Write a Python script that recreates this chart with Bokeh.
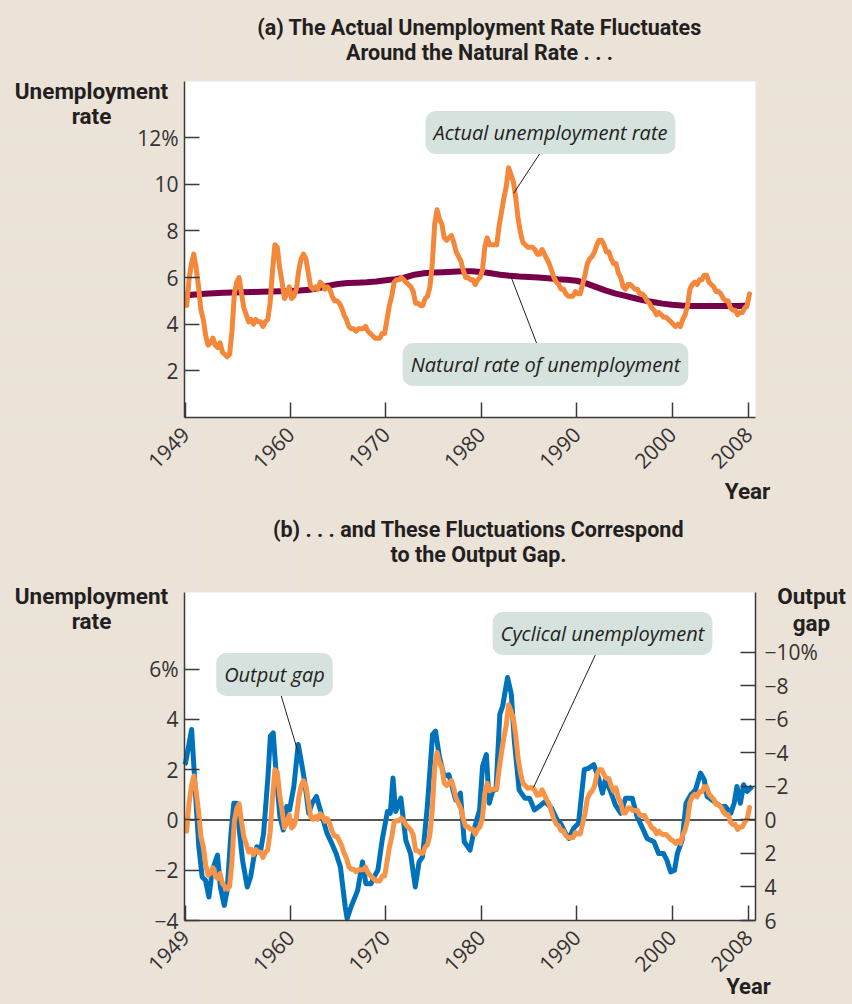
import math
from bokeh.plotting import figure
from bokeh.models import Range1d, LinearAxis, FixedTicker, Label, BoxAnnotation
from bokeh.layouts import column
from bokeh.embed import file_html
from bokeh.resources import INLINE

# ---------------- data ----------------
first_quarter_mid = 1949.125   # quarterly series, plotted at quarter mid-points

unemployment_actual = [
    4.8, 5.9, 6.6, 7.0,   6.4, 5.6, 4.6, 4.2,   3.5, 3.1, 3.2, 3.4,
    3.1, 3.0, 3.2, 2.8,   2.7, 2.6, 2.7, 3.7,   5.3, 5.8, 6.0, 5.3,
    4.7, 4.4, 4.1, 4.2,   4.0, 4.2, 4.1, 4.1,   3.9, 4.1, 4.2, 4.9,
    6.3, 7.4, 7.3, 6.4,   5.8, 5.1, 5.3, 5.6,   5.1, 5.2, 5.5, 6.3,
    6.8, 7.0, 6.8, 6.2,   5.6, 5.5, 5.6, 5.5,   5.8, 5.7, 5.5, 5.6,
    5.5, 5.2, 5.0, 5.0,   4.9, 4.7, 4.4, 4.2,   3.9, 3.8, 3.8, 3.7,
    3.8, 3.8, 3.8, 3.9,   3.7, 3.6, 3.5, 3.4,   3.4, 3.4, 3.6, 3.6,
    4.2, 4.8, 5.2, 5.8,   5.9, 5.9, 6.0, 5.9,   5.8, 5.7, 5.6, 5.4,
    4.9, 4.9, 4.8, 4.8,   5.1, 5.2, 5.6, 6.6,   8.3, 8.9, 8.5, 8.3,
    7.7, 7.6, 7.7, 7.8,   7.5, 7.1, 6.9, 6.7,   6.3, 6.0, 6.0, 5.9,
    5.9, 5.7, 5.9, 6.0,   6.3, 7.3, 7.7, 7.4,   7.4, 7.4, 7.4, 8.2,
    8.8, 9.4, 9.9, 10.7,  10.4, 10.1, 9.4, 8.5,  7.9, 7.5, 7.4, 7.3,
    7.3, 7.3, 7.2, 7.0,   7.0, 7.2, 7.0, 6.8,   6.6, 6.3, 6.0, 5.8,
    5.7, 5.5, 5.5, 5.3,   5.2, 5.2, 5.2, 5.4,   5.3, 5.3, 5.7, 6.1,
    6.6, 6.8, 6.9, 7.1,   7.4, 7.6, 7.6, 7.4,   7.1, 7.1, 6.8, 6.6,
    6.6, 6.2, 6.0, 5.6,   5.5, 5.7, 5.7, 5.6,   5.5, 5.5, 5.3, 5.3,
    5.2, 5.0, 4.9, 4.7,   4.6, 4.4, 4.5, 4.4,   4.3, 4.3, 4.2, 4.1,
    4.0, 3.9, 4.0, 3.9,   4.2, 4.4, 4.8, 5.5,   5.7, 5.8, 5.7, 5.9,
    5.9, 6.1, 6.1, 5.8,   5.7, 5.6, 5.4, 5.4,   5.3, 5.1, 5.0, 5.0,
    4.7, 4.6, 4.6, 4.4,   4.5, 4.5, 4.7, 4.8,   5.3,
]

natural_years = list(range(1949, 2009))
natural_rate = [
    5.24, 5.27, 5.30, 5.33, 5.35, 5.36, 5.37, 5.38, 5.39, 5.40,
    5.41, 5.42, 5.44, 5.47, 5.55, 5.65, 5.72, 5.76, 5.78, 5.80,
    5.83, 5.88, 5.93, 6.00, 6.12, 6.18, 6.21, 6.23, 6.25, 6.27,
    6.27, 6.24, 6.18, 6.12, 6.07, 6.04, 6.02, 6.00, 5.97, 5.93,
    5.90, 5.86, 5.75, 5.60, 5.45, 5.32, 5.22, 5.12, 5.02, 4.95,
    4.88, 4.83, 4.80, 4.78, 4.78, 4.78, 4.78, 4.78, 4.78, 4.80,
]

cyclical_unemployment = [
    -0.45, 0.65, 1.35, 1.75,   1.13, 0.33, -0.67, -1.07,  -1.80, -2.20, -2.10, -1.90,
    -2.23, -2.33, -2.13, -2.53,  -2.65, -2.75, -2.65, -1.65,  -0.06, 0.44, 0.64, -0.06,
    -0.67, -0.97, -1.27, -1.17,  -1.38, -1.18, -1.28, -1.28,  -1.49, -1.29, -1.19, -0.49,
    0.90, 2.00, 1.90, 1.00,   0.39, -0.31, -0.11, 0.19,   -0.32, -0.22, 0.08, 0.88,
    1.36, 1.56, 1.36, 0.76,   0.13, 0.03, 0.13, 0.03,   0.25, 0.15, -0.05, 0.05,
    -0.15, -0.45, -0.65, -0.65,  -0.82, -1.02, -1.32, -1.52,  -1.86, -1.96, -1.96, -2.06,
    -1.98, -1.98, -1.98, -1.88,  -2.10, -2.20, -2.30, -2.40,  -2.43, -2.43, -2.23, -2.23,
    -1.68, -1.08, -0.68, -0.08,  -0.03, -0.03, 0.07, -0.03,  -0.20, -0.30, -0.40, -0.60,
    -1.22, -1.22, -1.32, -1.32,  -1.08, -0.98, -0.58, 0.42,   2.09, 2.69, 2.29, 2.09,
    1.47, 1.37, 1.47, 1.57,   1.25, 0.85, 0.65, 0.45,   0.03, -0.27, -0.27, -0.37,
    -0.37, -0.57, -0.37, -0.27,  0.06, 1.06, 1.46, 1.16,   1.22, 1.22, 1.22, 2.02,
    2.68, 3.28, 3.78, 4.58,   4.33, 4.03, 3.33, 2.43,   1.86, 1.46, 1.36, 1.26,
    1.28, 1.28, 1.18, 0.98,   1.00, 1.20, 1.00, 0.80,   0.63, 0.33, 0.03, -0.17,
    -0.23, -0.43, -0.43, -0.63,  -0.70, -0.70, -0.70, -0.50,  -0.56, -0.56, -0.16, 0.24,
    0.85, 1.05, 1.15, 1.35,   1.80, 2.00, 2.00, 1.80,   1.65, 1.65, 1.35, 1.15,
    1.28, 0.88, 0.68, 0.28,   0.28, 0.48, 0.48, 0.38,   0.38, 0.38, 0.18, 0.18,
    0.18, -0.02, -0.12, -0.32,  -0.35, -0.55, -0.45, -0.55,  -0.58, -0.58, -0.68, -0.78,
    -0.83, -0.93, -0.83, -0.93,  -0.60, -0.40, 0.00, 0.70,   0.92, 1.02, 0.92, 1.12,
    1.12, 1.32, 1.32, 1.02,   0.92, 0.82, 0.62, 0.62,   0.52, 0.32, 0.22, 0.22,
    -0.08, -0.18, -0.18, -0.38,  -0.28, -0.28, -0.08, 0.02,   0.50,
]

gap_dates = [
    1948.90, 1949.01, 1949.65, 1950.05, 1950.40, 1950.75, 1951.10, 1951.46, 1951.81, 1952.36,
    1952.66, 1953.07, 1953.37, 1953.77, 1954.07, 1954.37, 1954.68, 1954.98, 1955.48, 1955.83,
    1956.18, 1956.49, 1956.89, 1957.19, 1957.65, 1957.90, 1958.20, 1958.50, 1958.90, 1959.26,
    1959.61, 1959.91, 1960.36, 1960.82, 1961.17, 1961.52, 1961.92, 1962.28, 1962.73, 1963.03,
    1963.33, 1963.84, 1964.34, 1964.79, 1965.24, 1965.75, 1965.95, 1966.35, 1967.05, 1967.56,
    1967.91, 1968.46, 1968.76, 1969.17, 1969.62, 1970.17, 1970.47, 1970.75, 1971.03, 1971.58,
    1972.09, 1972.59, 1973.09, 1973.49, 1973.85, 1974.35, 1974.90, 1975.21, 1975.61, 1976.11,
    1976.61, 1977.32, 1977.82, 1978.22, 1978.83, 1979.33, 1979.83, 1980.14, 1980.54, 1980.84,
    1981.24, 1981.55, 1981.95, 1982.25, 1982.76, 1983.16, 1983.46, 1983.97, 1984.57, 1985.07,
    1985.57, 1986.07, 1986.68, 1987.38, 1988.04, 1988.32, 1988.84, 1989.19, 1989.69, 1990.20,
    1990.80, 1991.30, 1991.80, 1992.31, 1992.71, 1993.01, 1993.56, 1994.06, 1994.62, 1995.13,
    1995.83, 1996.34, 1996.84, 1997.39, 1998.10, 1998.60, 1999.10, 1999.46, 1999.86, 2000.26,
    2000.56, 2001.06, 2001.47, 2001.97, 2002.47, 2002.98, 2003.38, 2003.68, 2004.39, 2005.10,
    2005.60, 2006.16, 2006.51, 2006.81, 2007.16, 2007.51, 2007.86, 2008.40,
]
output_gap = [
    -3.3, -3.4, -5.4, -1.6, 1.6, 3.4, 3.6, 4.6, 3.0, 2.1,
    4.0, 5.1, 4.2, 0.8, -1.0, -1.0, 0.8, 2.4, 4.0, 3.4,
    2.2, 1.6, 1.8, 0.8, -2.6, -5.0, -5.2, -2.8, -0.2, 0.6,
    -0.8, -0.6, -2.0, -4.5, -3.4, -2.2, -0.4, -1.0, -1.4, -0.8,
    -0.2, 0.8, 1.4, 2.0, 2.8, 5.2, 5.9, 5.2, 4.2, 2.5,
    3.8, 3.8, 3.4, 3.0, 1.2, -0.5, -0.4, -2.5, -0.5, -1.3,
    1.2, 2.0, 4.0, 2.5, 2.2, -0.8, -5.1, -5.3, -3.8, -2.6,
    -2.7, -1.2, -1.6, 1.3, 1.8, 0.4, -0.6, -3.2, -3.9, -1.0,
    -1.8, -1.8, -6.3, -6.8, -8.5, -7.5, -4.8, -1.8, -1.3, -1.3,
    -0.6, -0.8, -1.1, -0.7, 0.1, 0.2, 0.8, 1.1, 0.5, 0.2,
    -3.0, -3.1, -3.3, -2.5, -1.6, -2.4, -1.7, -0.9, -0.4, -1.3,
    -1.3, -0.2, 0.4, 1.1, 1.3, 2.0, 2.0, 2.4, 3.1, 3.0,
    2.0, 1.2, -1.0, -1.5, -1.8, -2.8, -2.4, -1.4, -1.1, -0.8,
    -0.8, -0.4, -1.0, -2.0, -1.0, -2.1, -1.7, -2.0,
]

year_ticks = [1949, 1960, 1970, 1980, 1990, 2000, 2008]
rate_ticks_a = [2, 4, 6, 8, 10, 12]
rate_labels_a = {12: "12%"}
rate_ticks_b = [-4, -2, 0, 2, 4, 6]
rate_labels_b = {-4: "\u22124", -2: "\u22122", 0: "0", 2: "2", 4: "4", 6: "6%"}
gap_ticks = [-10, -8, -6, -4, -2, 0, 2, 4, 6]
gap_labels = {-10: "\u221210%", -8: "\u22128", -6: "\u22126", -4: "\u22124", -2: "\u22122",
              0: "0", 2: "2", 4: "4", 6: "6"}

quarter_dates = [first_quarter_mid + 0.25 * i for i in range(len(unemployment_actual))]

# ---------------- style / geometry ----------------
BG = "#ebe2d8"
INK = "#231f20"
BOX = "#d6e2de"
ORANGE_A = "#f5873a"
ORANGE_B = "#f79448"
PURPLE = "#78004a"
BLUE = "#0072bc"
AXIS = "#3a3a3a"
BOLD_FONT = "Roboto"
TICK_FONT = "Open Sans"
NOTE_FONT = "Open Sans"

W = 852
X_START, X_END = 1948.9, 2008.75      # extent of the white plotting area
FRAME_L, FRAME_R = 184, 755           # its pixel edges
PPY = (FRAME_R - FRAME_L) / (X_END - X_START)


def px_x(px):
    return X_START + (px - FRAME_L) / PPY


def style_axis(ax, ticks, overrides):
    ax.ticker = FixedTicker(ticks=ticks)
    ax.major_label_overrides = overrides
    ax.major_tick_in = 15
    ax.major_tick_out = 0
    ax.minor_tick_line_color = None
    ax.axis_line_color = AXIS
    ax.axis_line_width = 1.5
    ax.major_tick_line_color = AXIS
    ax.major_tick_line_width = 1.5
    ax.major_label_text_font = TICK_FONT
    ax.major_label_text_font_size = "21px"
    ax.major_label_text_color = "#333333"
    ax.major_label_standoff = 6


def bold(p, x, y, text, size="21px"):
    p.add_layout(Label(x=x, y=y, text=text, text_font=BOLD_FONT, text_font_style="bold",
                       text_font_size=size, text_color=INK, text_align="center",
                       text_baseline="middle"))


def note(p, x, y, text):
    p.add_layout(Label(x=x, y=y, text=text, text_font=NOTE_FONT, text_font_style="italic",
                       text_font_size="20px", text_color=INK, text_align="center",
                       text_baseline="middle", background_fill_color=BOX,
                       border_radius=10, padding=8))


def make_panel(height, white_top, white_bottom, y0, y1, ticks, labels):
    ppu = (white_bottom - white_top) / (y1 - y0)
    p = figure(width=W, height=height,
               x_range=Range1d(X_START - FRAME_L / PPY, X_START + (W - FRAME_L) / PPY),
               y_range=Range1d(y0 - (height - white_bottom) / ppu, y1 + white_top / ppu),
               output_backend="svg", toolbar_location=None,
               x_axis_location=None, y_axis_location=None)
    p.min_border_left = p.min_border_right = 0
    p.min_border_top = p.min_border_bottom = 0
    p.background_fill_color = BG
    p.border_fill_color = BG
    p.outline_line_color = None
    p.add_layout(BoxAnnotation(left=X_START, right=X_END, bottom=y0, top=y1,
                               fill_color="white", fill_alpha=1.0, line_color=None,
                               level="underlay"))
    xa = LinearAxis(fixed_location=y0, bounds=(X_START, X_END))
    style_axis(xa, year_ticks, {})
    xa.major_label_orientation = math.pi / 4
    xa.major_label_standoff = 13
    p.add_layout(xa, "below")
    ya_ = LinearAxis(fixed_location=X_START, bounds=(y0, y1))
    style_axis(ya_, ticks, labels)
    p.add_layout(ya_, "left")

    def py(pix):
        return y1 - (pix - white_top) / ppu
    return p, py


# ---------------- panel (a) ----------------
pa, ya = make_panel(505, 81, 417, 0, 14.4, rate_ticks_a, rate_labels_a)

pa.line(natural_years, natural_rate, line_color=PURPLE, line_width=6, line_join="round")
pa.line(quarter_dates, unemployment_actual, line_color=ORANGE_A, line_width=5,
        line_join="round", line_cap="round")

pa.segment(x0=[px_x(540), px_x(510)], y0=[ya(152), ya(275)],
           x1=[px_x(513), px_x(537)], y1=[ya(193), ya(345)], line_color=INK, line_width=1)
note(pa, px_x(550), ya(132), "Actual unemployment rate")
note(pa, px_x(545), ya(364), "Natural rate of unemployment")

bold(pa, px_x(479), ya(27), "(a) The Actual Unemployment Rate Fluctuates", "21.5px")
bold(pa, px_x(479), ya(52), "Around the Natural Rate . . .", "21.5px")
bold(pa, px_x(91), ya(90), "Unemployment", "22.5px")
bold(pa, px_x(91), ya(115), "rate", "22.5px")
bold(pa, px_x(747), ya(490), "Year", "22.5px")

# ---------------- panel (b) ----------------
B_TOP = 505   # page y where panel (b) starts
HB = 499
WT_B, WB_B = 592 - B_TOP, 920 - B_TOP
YB0, YB1 = -4, 9.05
GAP_BOTTOM, GAP_TOP = 6, -13.575
pb, yb_local = make_panel(HB, WT_B, WB_B, YB0, YB1, rate_ticks_b, rate_labels_b)


def yb(page_y):
    return yb_local(page_y - B_TOP)


gpp = (GAP_BOTTOM - GAP_TOP) / (WB_B - WT_B)
pb.extra_y_ranges = {"gap": Range1d(GAP_BOTTOM + (HB - WB_B) * gpp, GAP_TOP - WT_B * gpp)}
gap_axis = LinearAxis(y_range_name="gap", fixed_location=X_END, bounds=(GAP_TOP, GAP_BOTTOM))
style_axis(gap_axis, gap_ticks, gap_labels)
gap_axis.major_label_standoff = 9
pb.add_layout(gap_axis, "right")

pb.segment(x0=[X_START], y0=[0], x1=[X_END], y1=[0], line_color="#555555", line_width=2)
pb.line(gap_dates, output_gap, y_range_name="gap", line_color=BLUE, line_width=5,
        line_join="round")
pb.line(quarter_dates, cyclical_unemployment, line_color=ORANGE_B, line_width=5,
        line_join="round", line_cap="round")

pb.segment(x0=[px_x(280), px_x(596)], y0=[yb(693), yb(652)],
           x1=[px_x(298), px_x(533)], y1=[yb(753), yb(787)], line_color=INK, line_width=1)
note(pb, px_x(274), yb(674), "Output gap")
note(pb, px_x(602), yb(633), "Cyclical unemployment")

bold(pb, px_x(478), yb(529), "(b) . . . and These Fluctuations Correspond", "21.5px")
bold(pb, px_x(478), yb(554), "to the Output Gap.", "21.5px")
bold(pb, px_x(91), yb(595), "Unemployment", "22.5px")
bold(pb, px_x(91), yb(620), "rate", "22.5px")
bold(pb, px_x(811), yb(595), "Output", "22.5px")
bold(pb, px_x(811), yb(622), "gap", "22.5px")
bold(pb, px_x(748), yb(986), "Year", "22px")

layout = column(pa, pb, spacing=0)

TEMPLATE = """{% block postamble %}<style>html, body { margin: 0 !important; padding: 0 !important; background: #ebe2d8; overflow: hidden; }</style>{% endblock %}"""

html = file_html(layout, INLINE, title="Unemployment and the output gap", template=TEMPLATE)
open("out.html", "w").write(html)
